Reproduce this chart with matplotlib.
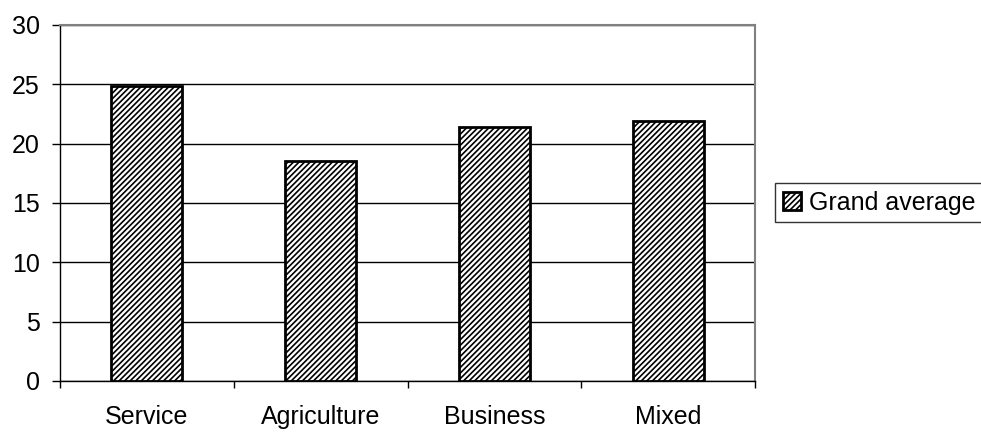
import matplotlib
matplotlib.use("Agg")
import matplotlib.pyplot as plt
import numpy as np

categories = ["Service", "Agriculture", "Business", "Mixed"]
grand_average = [24.9, 18.5, 21.4, 21.9]
y_ticks = [0, 5, 10, 15, 20, 25, 30]

plt.rcParams["font.family"] = ["Liberation Sans", "DejaVu Sans"]
plt.rcParams["hatch.linewidth"] = 1.2
plt.rcParams["hatch.color"] = "#4a4a4a"

FS = 18

fig = plt.figure(figsize=(9.81, 4.32), dpi=100)
ax = fig.add_axes([60 / 981, 1 - 381 / 432, 695 / 981, 356 / 432])

x = np.arange(len(categories))
bars = ax.bar(x, grand_average, width=0.41, color="white", edgecolor="black",
              linewidth=2, hatch="//////", label="Grand average", zorder=3)

ax.set_xlim(-0.5, len(categories) - 0.5)
ax.set_ylim(0, 30)
ax.set_yticks(y_ticks)
ax.set_yticklabels([str(t) for t in y_ticks], fontsize=FS)
ax.yaxis.grid(True, color="black", linewidth=1, zorder=0)

# category labels sit between the boundary ticks
ax.set_xticks(x)
ax.set_xticklabels(categories, fontsize=FS)
ax.tick_params(axis="x", length=0, pad=17)
ax.set_xticks(np.arange(-0.5, len(categories)), minor=True)
ax.tick_params(axis="x", which="minor", length=5, color="black", width=1)
ax.tick_params(axis="y", length=5.5, color="black", width=1, pad=9)

for side in ["top", "right"]:
    ax.spines[side].set_color("#808080")
    ax.spines[side].set_linewidth(1.5)
for side in ["left", "bottom"]:
    ax.spines[side].set_color("black")
    ax.spines[side].set_linewidth(1)

leg = fig.legend(loc="upper left", bbox_to_anchor=(775 / 981, 1 - 183 / 432),
                 fontsize=FS, frameon=True, fancybox=False, edgecolor="black",
                 handlelength=0.75, handleheight=0.75, handletextpad=0.3,
                 borderpad=0.3, borderaxespad=0)
leg.get_frame().set_linewidth(1)

fig.savefig("out.png", dpi=100)
